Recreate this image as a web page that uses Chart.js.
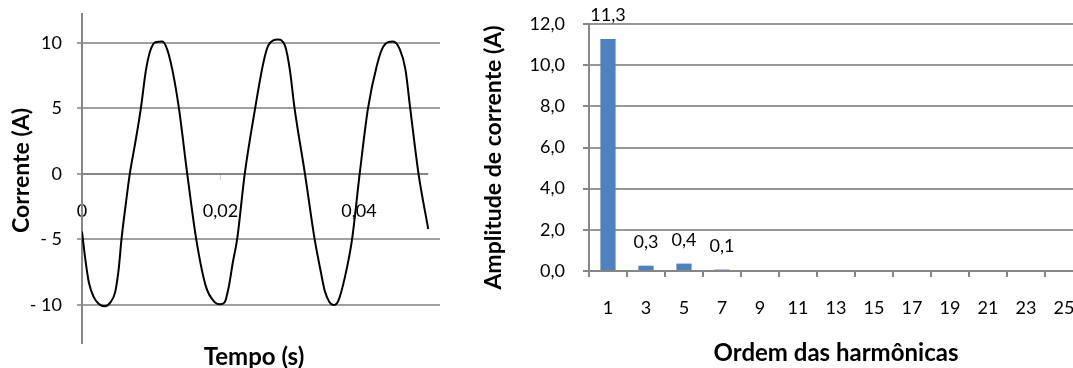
<!DOCTYPE html>
<html lang="pt">
<head>
<meta charset="UTF-8">
<title>Corrente e harmônicas</title>
<script src="https://cdn.jsdelivr.net/npm/chart.js"></script>
<style>
    body {
        margin: 0;
        background: #fff;
        overflow: hidden;
        width: 1073px;
        height: 368px;
        position: relative;
    }

    #waveBox {
        position: absolute;
        left: 0;
        top: 0;
    }

    #harmBox {
        position: absolute;
        left: 450px;
        top: 0;
    }
</style>
</head>
<body>
<div id="waveBox"><canvas id="waveChart" width="450" height="368"></canvas></div>
<div id="harmBox"><canvas id="harmChart" width="640" height="368"></canvas></div>

<script>
    // forma de onda da corrente
    const tempo = [0, 0.0005, 0.0010, 0.0017, 0.0024, 0.0033, 0.0041, 0.0048, 0.0053, 0.0057,
        0.0063, 0.0069, 0.0077, 0.0085, 0.0092, 0.0098, 0.0106, 0.0116, 0.0123, 0.0131,
        0.0140, 0.0152, 0.0165, 0.0179, 0.0192, 0.0199, 0.0206, 0.0212, 0.0218, 0.0224,
        0.0235, 0.0250, 0.0262, 0.0269, 0.0283, 0.0293, 0.0300, 0.0307, 0.0322, 0.0336,
        0.0345, 0.0351, 0.0363, 0.0370, 0.0380, 0.0390, 0.0401, 0.0413, 0.0426, 0.0435,
        0.0449, 0.0459, 0.0467, 0.0474, 0.0486, 0.0500];
    const corrente = [-4.4, -6.6, -8.3, -9.4, -9.9, -10.1, -9.8, -9.0, -7.25, -5.0,
        -2.4, 0, 2.4, 5.0, 7.8, 9.3, 10.05, 10.1, 9.5, 7.8,
        5.0, 0, -5.0, -8.6, -9.8, -9.95, -9.8, -8.6, -6.7, -5.0,
        0, 5.0, 8.5, 9.8, 10.25, 9.8, 8.0, 5.0, 0, -5.0,
        -7.5, -9.0, -10.0, -9.7, -7.8, -5.0, 0, 5.0, 8.3, 9.7,
        10.1, 9.5, 8.0, 5.0, 0, -4.2];
    const tempoFim = 0.05;
    const tempoTicks = [0, 0.02, 0.04];
    const tempoTickLabels = ['0', '0,02', '0,04'];
    const correnteTicks = [-10, -5, 0, 5, 10];
    const correnteTickLabels = ['- 10', '- 5', '0', '5', '10'];

    // espectro harmônico
    const ordens = ['1', '3', '5', '7', '9', '11', '13', '15', '17', '19', '21', '23', '25'];
    const amplitudes = [11.27, 0.26, 0.36, 0.07, 0, 0, 0, 0, 0, 0, 0, 0, 0];
    const ampTicks = [0, 2, 4, 6, 8, 10, 12];
    const ampTickLabels = ['0,0', '2,0', '4,0', '6,0', '8,0', '10,0', '12,0'];

    Chart.defaults.font.family = 'Lato, sans-serif';
    Chart.defaults.font.size = 18;
    Chart.defaults.color = '#000';
    Chart.defaults.animation = false;

    const axisGrey = '#868686';
    const gridGrey = '#9f9f9f';

    // tira o espaço extra que o Chart.js reserva para os rótulos das pontas
    function fixWidth(w) {
        return s => {
            s.width = w;
            s.paddingTop = 0;
            s.paddingBottom = 0;
        };
    }

    // títulos dos eixos, deslocados como no Excel
    const axisTitles = {
        id: 'axisTitles',
        afterDraw(chart, args, opts) {
            const ctx = chart.ctx;
            const a = chart.chartArea;
            ctx.save();
            ctx.fillStyle = '#000';
            ctx.textAlign = 'center';
            ctx.textBaseline = 'middle';
            if (opts.y) {
                ctx.font = 'bold ' + opts.y.size + 'px Lato, sans-serif';
                ctx.translate(opts.y.x, (a.top + a.bottom) / 2 + opts.y.shift);
                ctx.rotate(-Math.PI / 2);
                ctx.fillText(opts.y.text, 0, 0);
                ctx.setTransform(1, 0, 0, 1, 0, 0);
            }
            if (opts.x) {
                ctx.font = 'bold ' + opts.x.size + 'px Lato, sans-serif';
                ctx.fillText(opts.x.text, (a.left + a.right) / 2 + opts.x.shift, opts.x.y);
            }
            ctx.restore();
        }
    };

    // linha do eixo horizontal em zero (vai só até 0,05)
    const zeroLine = {
        id: 'zeroLine',
        beforeDatasetsDraw(chart) {
            const ctx = chart.ctx;
            const xs = chart.scales.x;
            const py = Math.round(chart.scales.y.getPixelForValue(0));
            ctx.save();
            ctx.strokeStyle = axisGrey;
            ctx.lineWidth = 2;
            ctx.beginPath();
            ctx.moveTo(xs.getPixelForValue(0), py);
            ctx.lineTo(xs.getPixelForValue(tempoFim), py);
            ctx.stroke();
            ctx.restore();
        }
    };

    // rótulos de valor acima das barras
    const barLabels = {
        id: 'barLabels',
        afterDatasetsDraw(chart) {
            const ctx = chart.ctx;
            const meta = chart.getDatasetMeta(0);
            ctx.save();
            ctx.font = '18px Lato, sans-serif';
            ctx.fillStyle = '#000';
            ctx.textAlign = 'center';
            ctx.textBaseline = 'alphabetic';
            meta.data.forEach((bar, i) => {
                const v = amplitudes[i];
                if (v < 0.05) return;
                ctx.fillText(v.toFixed(1).replace('.', ','), bar.x, bar.y - 18);
            });
            ctx.restore();
        }
    };

    new Chart(document.getElementById('waveChart'), {
        type: 'line',
        data: {
            datasets: [{
                data: tempo.map((t, i) => ({ x: t, y: corrente[i] })),
                borderColor: '#000',
                borderWidth: 2,
                pointRadius: 0,
                cubicInterpolationMode: 'monotone'
            }]
        },
        options: {
            responsive: false,
            layout: { padding: { top: 14, right: 10, bottom: 25, left: 0 } },
            plugins: {
                legend: { display: false },
                tooltip: { enabled: false },
                axisTitles: {
                    x: { text: 'Tempo (s)', size: 24, y: 357, shift: -7 },
                    y: { text: 'Corrente (A)', size: 23, x: 22, shift: -8 }
                }
            },
            scales: {
                x: {
                    type: 'linear',
                    min: 0,
                    max: 0.0517,
                    position: { y: 0 },
                    afterBuildTicks: s => { s.ticks = tempoTicks.map(v => ({ value: v })); },
                    ticks: {
                        callback: v => tempoTickLabels[tempoTicks.indexOf(v)],
                        padding: 20,
                        maxRotation: 0,
                        autoSkip: false
                    },
                    grid: { drawOnChartArea: false, tickLength: 6, tickColor: '#c8c8c8' },
                    border: { display: false }
                },
                y: {
                    min: -12.9,
                    max: 12.2,
                    afterBuildTicks: s => { s.ticks = correnteTicks.map(v => ({ value: v })); },
                    afterFit: fixWidth(82),
                    ticks: {
                        callback: v => correnteTickLabels[correnteTicks.indexOf(v)],
                        padding: 15
                    },
                    grid: {
                        color: c => (c.tick && c.tick.value === 0) ? 'rgba(0,0,0,0)' : gridGrey,
                        lineWidth: 2,
                        tickLength: 5,
                        tickColor: gridGrey
                    },
                    border: { color: axisGrey, width: 2 }
                }
            }
        },
        plugins: [zeroLine, axisTitles]
    });

    new Chart(document.getElementById('harmChart'), {
        type: 'bar',
        data: {
            labels: ordens,
            datasets: [{
                data: amplitudes,
                backgroundColor: '#4f81bd',
                categoryPercentage: 1,
                barPercentage: 0.4
            }]
        },
        options: {
            responsive: false,
            layout: { padding: { top: 24, right: 7, bottom: 0, left: 0 } },
            plugins: {
                legend: { display: false },
                tooltip: { enabled: false },
                axisTitles: {
                    y: { text: 'Amplitude de corrente (A)', size: 23, x: 44, shift: 10 }
                }
            },
            scales: {
                x: {
                    afterFit: s => {
                        s.height = 97;
                        s.paddingLeft = 0;
                        s.paddingRight = 0;
                    },
                    ticks: { padding: 20, maxRotation: 0, autoSkip: false },
                    grid: { drawOnChartArea: false, tickLength: 6, tickColor: axisGrey, lineWidth: 2 },
                    border: { color: axisGrey, width: 2 },
                    title: {
                        display: true,
                        text: 'Ordem das harmônicas',
                        color: '#000',
                        font: { size: 24, weight: 'bold' },
                        padding: { top: 0, bottom: 0 }
                    }
                },
                y: {
                    min: 0,
                    max: 12,
                    afterBuildTicks: s => { s.ticks = ampTicks.map(v => ({ value: v })); },
                    afterFit: fixWidth(139),
                    ticks: {
                        callback: v => ampTickLabels[ampTicks.indexOf(v)],
                        padding: 18
                    },
                    grid: { color: '#969696', lineWidth: 2, tickLength: 6, tickColor: axisGrey },
                    border: { color: axisGrey, width: 2 }
                }
            }
        },
        plugins: [barLabels, axisTitles]
    });
</script>
</body>
</html>
